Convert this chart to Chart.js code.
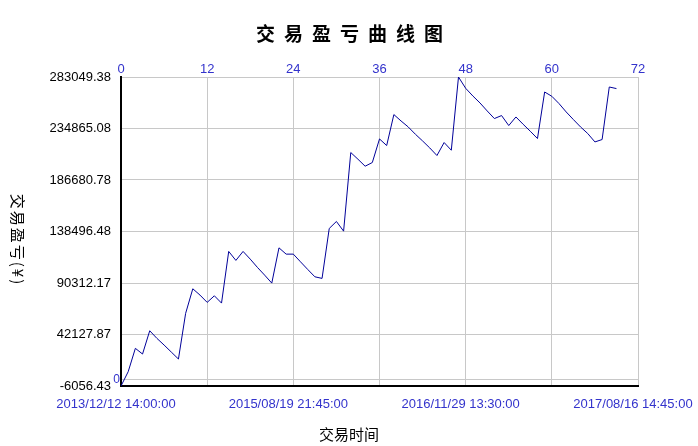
<!DOCTYPE html>
<html>
<head>
<meta charset="utf-8">
<script src="https://cdn.jsdelivr.net/npm/chart.js@4/dist/chart.umd.min.js"></script>
<style>
  html, body { margin: 0; padding: 0; background: #fff; }
  #wrap { width: 698px; height: 446px; }
</style>
</head>
<body>
<div id="wrap"><canvas id="pnl" width="698" height="446"></canvas></div>
<script>
// 交易盈亏 (cumulative P&L) per trade index
const pnl = [
  -6056.43, 7312, 29185, 23854, 45635, 38530, 32269, 25726, 19183, 61896,
  84893, 79001, 72178, 78347, 71525, 119850, 111437, 119850, 112646, 104893,
  97695, 90220, 123215, 117324, 117324, 110129, 103026, 96109, 94613, 141347,
  147890, 138824, 212386, 206124, 199580, 203039, 225098, 218928, 247904, 241922,
  236314, 229491, 223228, 216685, 209582, 221733, 214535, 283049.38, 272487, 265290,
  258747, 251269, 244165, 246970, 237623, 245661, 238838, 232295, 225472, 269029,
  265009, 258186, 250334, 243231, 236314, 230145, 222294, 224538, 273702, 272207
];
const yTicks = [283049.38, 234865.08, 186680.78, 138496.48, 90312.17, 42127.87, -6056.43];
const topTicks = [0, 12, 24, 36, 48, 60, 72];
const dateTickIdx = [0, 24, 48, 72];
const dateLabels = ["2013/12/12 14:00:00", "2015/08/19 21:45:00", "2016/11/29 13:30:00", "2017/08/16 14:45:00"];

const titleText = "交易盈亏曲线图";
const yTitle = "交易盈亏(¥)";
const xTitle = "交易时间";

const BLUE = "#3333cc";
const GRID = "#c8c8c8";
const FONT = "'Liberation Sans', Arial, sans-serif";
const CJK = "'Noto Sans CJK SC', sans-serif";

// titles: main one spaced out, y one reads top to bottom, x one centred on the page
const textPlugin = {
  id: "textPlugin",
  afterDraw(chart) {
    const ctx = chart.ctx;
    ctx.save();
    ctx.fillStyle = "#000";
    ctx.textAlign = "center";
    ctx.textBaseline = "middle";
    ctx.font = "bold 19px " + CJK;
    ctx.letterSpacing = "9px";
    ctx.fillText(titleText, 354, 34);
    ctx.letterSpacing = "0px";
    ctx.font = "15px " + CJK;
    ctx.fillText(xTitle, 349, 434);
    ctx.letterSpacing = "2px";
    ctx.translate(18, 240);
    ctx.rotate(Math.PI / 2);
    ctx.fillText(yTitle, 0, 0);
    ctx.restore();
  },
};

const noSidePad = (s) => { s.paddingLeft = 0; s.paddingRight = 0; };

new Chart(document.getElementById("pnl"), {
  type: "line",
  data: {
    datasets: [{
      data: pnl.map((v, i) => ({ x: i, y: v })),
      borderColor: "#000099",
      borderWidth: 1,
      pointRadius: 0,
      tension: 0,
      xAxisID: "x",
      yAxisID: "y",
    }],
  },
  options: {
    responsive: false,
    animation: false,
    layout: { padding: { left: 50, top: 59, right: 60, bottom: 0 } },
    plugins: { legend: { display: false }, tooltip: { enabled: false } },
    scales: {
      x: {
        type: "linear",
        position: "bottom",
        min: 0,
        max: 72,
        afterBuildTicks: (s) => { s.ticks = dateTickIdx.map((v) => ({ value: v })); },
        afterFit: (s) => { s.height = 60; noSidePad(s); },
        ticks: {
          autoSkip: false,
          maxRotation: 0,
          padding: 3,
          labelOffset: -5,
          color: BLUE,
          font: { family: FONT, size: 13 },
          callback: (v) => dateLabels[dateTickIdx.indexOf(v)],
        },
        grid: { display: false },
        border: { color: "#000", width: 2 },
      },
      xTop: {
        type: "linear",
        position: "top",
        min: 0,
        max: 72,
        afterBuildTicks: (s) => { s.ticks = topTicks.map((v) => ({ value: v })); },
        afterFit: (s) => { s.height = 18; noSidePad(s); },
        ticks: {
          color: BLUE,
          padding: 0,
          font: { family: FONT, size: 13 },
        },
        grid: { color: GRID, drawTicks: false },
        border: { color: GRID },
      },
      y: {
        type: "linear",
        position: "left",
        weight: 2,
        min: yTicks[yTicks.length - 1],
        max: yTicks[0],
        afterBuildTicks: (s) => { s.ticks = yTicks.map((v) => ({ value: v })); },
        afterFit: (s) => { s.width = 63; },
        ticks: {
          color: "#000",
          padding: 2,
          font: { family: FONT, size: 13 },
          callback: (v) => v.toFixed(2),
        },
        grid: { color: GRID, drawTicks: false },
        border: { display: false },
      },
      y0: {
        type: "linear",
        position: "left",
        weight: 1,
        min: yTicks[yTicks.length - 1],
        max: yTicks[0],
        afterBuildTicks: (s) => { s.ticks = [{ value: 0 }]; },
        afterFit: (s) => { s.width = 8; },
        ticks: {
          color: BLUE,
          padding: 1,
          font: { family: FONT, size: 12 },
        },
        grid: { color: GRID, drawTicks: false },
        border: { color: "#000", width: 2 },
      },
    },
  },
  plugins: [textPlugin],
});
</script>
</body>
</html>
